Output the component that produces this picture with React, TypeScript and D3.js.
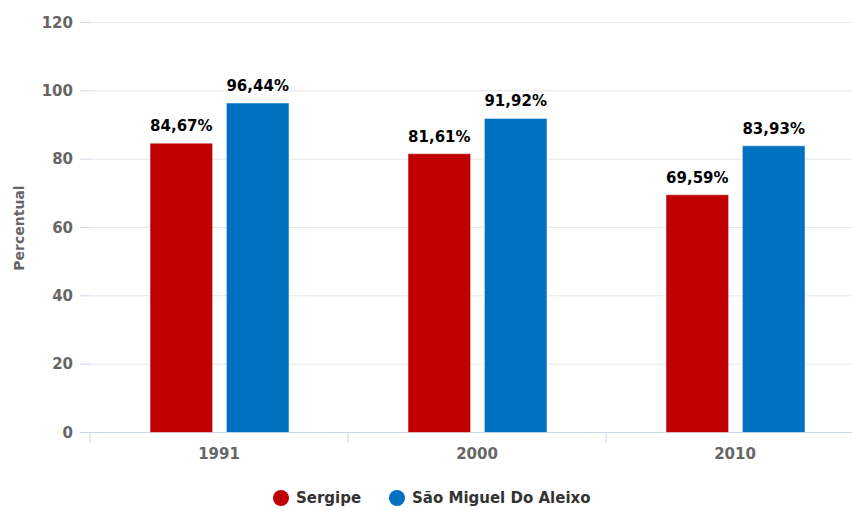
import React from "react";
import * as d3 from "d3";

const categories = ["1991", "2000", "2010"];
const seriesNames = ["Sergipe", "São Miguel Do Aleixo"];
const sergipe = [84.67, 81.61, 69.59];
const saoMiguel = [96.44, 91.92, 83.93];
const yTicks = [0, 20, 40, 60, 80, 100, 120];
const colors = ["#c00000", "#0070c0"];

const W = 852;
const H = 508;
const FONT = "'DejaVu Sans', Verdana, sans-serif";

export default function App() {
  const x = d3.scaleBand<string>().domain(categories).range([90, 864]).paddingInner(0).paddingOuter(0);
  const y = d3.scaleLinear().domain([0, 120]).range([432.5, 22.5]);
  const inner = d3.scaleBand<number>().domain([0, 1]).range([60, x.bandwidth() - 59]).paddingInner(0.18);
  const series = [sergipe, saoMiguel];
  const fmt = (v: number) => v.toFixed(2).replace(".", ",") + "%";

  return (
    <svg width={W} height={H} style={{ position: "absolute", left: 0, top: 0, overflow: "hidden" }}>
      <rect x={0} y={0} width={W} height={H} fill="#fff" />
      {yTicks.map((t) => (
        <g key={t}>
          <line x1={90} x2={W} y1={y(t)} y2={y(t)} stroke={t === 0 ? "#ccd6eb" : "#e6e6e6"} strokeWidth={1} />
          <line x1={80} x2={90} y1={y(t)} y2={y(t)} stroke="#ccd6eb" strokeWidth={1} />
          <text x={73} y={y(t)} dy="0.35em" textAnchor="end" fontFamily={FONT} fontWeight="bold" fontSize={15} fill="#666">
            {t}
          </text>
        </g>
      ))}
      {categories.map((c) => (
        <line key={"tk" + c} x1={x(c)!} x2={x(c)!} y1={433} y2={443} stroke="#ccd6eb" />
      ))}
      {categories.map((c) => (
        <text key={"xl" + c} x={x(c)! + x.bandwidth() / 2} y={459} textAnchor="middle" fontFamily={FONT} fontWeight="bold" fontSize={15} fill="#666">
          {c}
        </text>
      ))}
      <text transform={`translate(24,228) rotate(-90)`} textAnchor="middle" fontFamily={FONT} fontWeight="bold" fontSize={14} fill="#666">
        Percentual
      </text>
      {series.map((vals, si) =>
        vals.map((v, i) => {
          const bx = x(categories[i])! + inner(si)!;
          const bw = inner.bandwidth();
          return (
            <g key={si + "-" + i}>
              <rect x={bx} y={y(v)} width={bw} height={y(0) - y(v)} fill={colors[si]} stroke="#ffffff" strokeOpacity={0.5} strokeWidth={1} />
              <text
                x={bx + bw / 2}
                y={y(v) - 12}
                textAnchor="middle"
                fontFamily={FONT}
                fontWeight="bold"
                fontSize={15}
                fill="#000"
                stroke="#fff"
                strokeWidth={3}
                paintOrder="stroke"
                strokeLinejoin="round"
              >
                {fmt(v)}
              </text>
            </g>
          );
        })
      )}
      {seriesNames.map((n, i) => {
        const lx = i === 0 ? 281 : 397;
        return (
          <g key={n}>
            <circle cx={lx} cy={498} r={8} fill={colors[i]} />
            <text x={lx + 15} y={503} fontFamily={FONT} fontWeight="bold" fontSize={15} fill="#333">
              {n}
            </text>
          </g>
        );
      })}
    </svg>
  );
}
